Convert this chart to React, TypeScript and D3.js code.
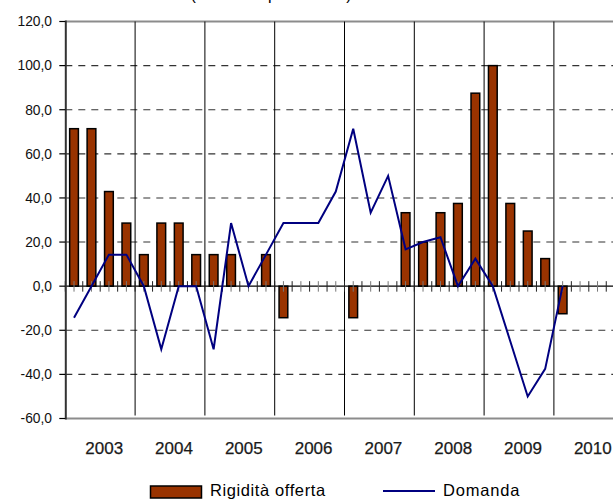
import React from "react";
import * as d3 from "d3";

const years = ["2003", "2004", "2005", "2006", "2007", "2008", "2009", "2010"];
const quarters = ["T1", "T2", "T3", "T4"];
const categories = years.flatMap((y) => quarters.map((q) => `${y} ${q}`));

const rigiditaOfferta = [
  71.4, 71.4, 42.9, 28.6,
  14.3, 28.6, 28.6, 14.3,
  14.3, 14.3, 0, 14.3,
  -14.3, 0, 0, 0,
  -14.3, 0, 0, 33.3,
  20, 33.3, 37.5, 87.5,
  100, 37.5, 25, 12.5,
  -12.5,
];

const domanda = [
  -14.3, 0, 14.3, 14.3,
  0, -28.6, 0, 0,
  -28.6, 28.6, 0, 14.3,
  28.6, 28.6, 28.6, 42.9,
  71.4, 33.3, 50, 16.7,
  20, 22.2, 0, 12.5,
  0, -25, -50, -37.5,
  0,
];

const yTicks = [-60, -40, -20, 0, 20, 40, 60, 80, 100, 120];
const title = "(variazioni percentuali)";
const legendLabels = ["Rigidità offerta", "Domanda"];

const W = 613;
const H = 499;
const FONT = "'Liberation Sans', Arial, Helvetica, sans-serif";
const BAR_FILL = "#993300";
const LINE_COLOR = "#000080";

export default function App() {
  const x0 = 65.3;
  const bw = 17.45;
  const x = d3
    .scaleBand<string>()
    .domain(categories)
    .range([x0, x0 + categories.length * bw])
    .paddingInner(0)
    .paddingOuter(0);
  const y = d3.scaleLinear().domain([-60, 120]).range([418.5, 21.5]);

  const step = x.step();
  const barW = step * 0.5;
  const cx = (i: number) => (x(categories[i]) as number) + step / 2;

  const line = d3
    .line<number>()
    .x((_, i) => cx(i))
    .y((d) => y(d));

  const top = y(120);
  const bottom = y(-60);
  const right = W + 20;

  const halfTicks: number[] = [];
  for (let k = 0; k <= categories.length * 2; k++) {
    const xx = x0 + (k * step) / 2;
    if (xx <= W + 2) halfTicks.push(xx);
  }

  return (
    <svg
      width={W}
      height={H}
      style={{ position: "absolute", left: 0, top: 0, background: "#fff" }}
      fontFamily={FONT}
    >
      <rect x={0} y={0} width={W} height={H} fill="#fff" />
      {/* title (cut off at top, as in the reference) */}
      <text x={271} y={0} fontSize={16} textAnchor="middle" fill="#000">
        {title}
      </text>

      {/* dashed gridlines */}
      {yTicks
        .filter((t) => t !== 0 && t !== 120 && t !== -60)
        .map((t) => (
          <line
            key={`g${t}`}
            x1={x0}
            x2={right}
            y1={y(t)}
            y2={y(t)}
            stroke="#333"
            strokeWidth={1.1}
            strokeDasharray="7,6"
          />
        ))}

      {/* top and bottom borders */}
      <line x1={x0} x2={right} y1={top} y2={top} stroke="#8c8c8c" strokeWidth={2} />
      <line x1={x0} x2={right} y1={bottom} y2={bottom} stroke="#8c8c8c" strokeWidth={2} />

      {/* year separator lines */}
      {years.map((yr, k) => {
        const xx = x0 + (k + 1) * 4 * step;
        if (xx > W) return null;
        return (
          <line key={`v${yr}`} x1={xx} x2={xx} y1={top} y2={bottom - 3} stroke="#000" strokeWidth={1} />
        );
      })}

      {/* bars */}
      {rigiditaOfferta.map((v, i) => {
        const yy = Math.min(y(v), y(0));
        const h = Math.abs(y(v) - y(0));
        return (
          <rect
            key={`b${i}`}
            x={cx(i) - barW / 2}
            y={yy}
            width={barW}
            height={h}
            fill={BAR_FILL}
            stroke="#000"
            strokeWidth={1.5}
          />
        );
      })}

      {/* zero axis */}
      <line x1={x0} x2={right} y1={y(0)} y2={y(0)} stroke="#000" strokeWidth={1.3} />
      {halfTicks.map((xx, k) => (
        <line
          key={`t${k}`}
          x1={xx}
          x2={xx}
          y1={y(0) - 5}
          y2={y(0) + 5.5}
          stroke={k % 2 === 0 ? "#222" : "#777"}
          strokeWidth={1}
        />
      ))}

      {/* Domanda line */}
      <path d={line(domanda) || ""} fill="none" stroke={LINE_COLOR} strokeWidth={2} strokeLinejoin="miter" />

      {/* left axis */}
      <line x1={x0 + 0.5} x2={x0 + 0.5} y1={top - 1} y2={bottom + 1} stroke="#333" strokeWidth={2} />
      {yTicks.map((t) => (
        <g key={`y${t}`}>
          <line x1={x0 - 6} x2={x0} y1={y(t)} y2={y(t)} stroke="#000" strokeWidth={1.2} />
          <text x={52} y={y(t) + 4.8} fontSize={13.8} textAnchor="end" fill="#111">
            {t.toFixed(1).replace(".", ",")}
          </text>
        </g>
      ))}

      {/* year labels */}
      {years.map((yr, k) => (
        <text
          key={`yl${yr}`}
          x={x0 + (k * 4 + 2) * step + 4}
          y={454}
          fontSize={17}
          textAnchor="middle"
          fill="#1a1a1a"
          stroke="#1a1a1a"
          strokeWidth={0.25}
        >
          {yr}
        </text>
      ))}

      {/* legend */}
      <rect x={150.5} y={486} width={51} height={12} fill={BAR_FILL} stroke="#000" strokeWidth={1.5} />
      <text x={210} y={495.5} fontSize={16.5} fill="#000" letterSpacing={0.6}>
        {legendLabels[0]}
      </text>
      <line x1={383} x2={435} y1={491} y2={491} stroke={LINE_COLOR} strokeWidth={2} />
      <text x={443} y={495.5} fontSize={16.5} fill="#000" letterSpacing={0.8}>
        {legendLabels[1]}
      </text>
    </svg>
  );
}
